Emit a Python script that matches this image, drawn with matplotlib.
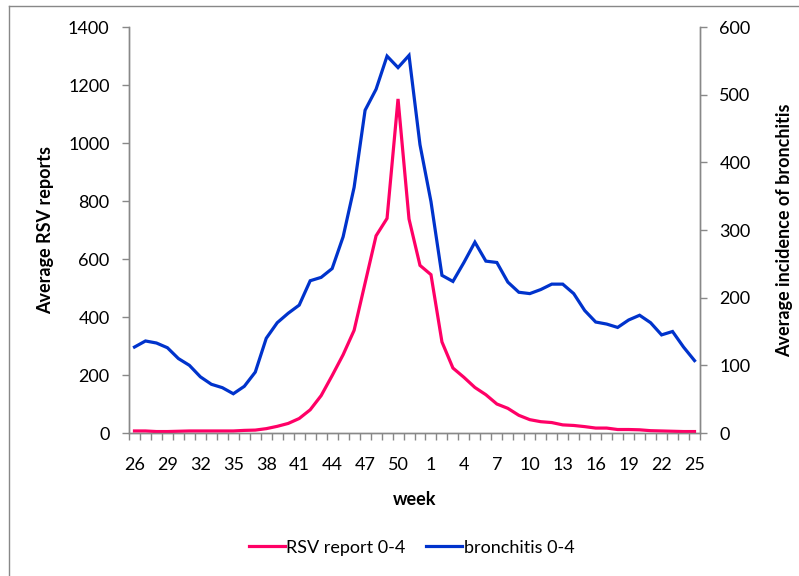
import matplotlib
matplotlib.use("Agg")
import matplotlib.pyplot as plt
from matplotlib.lines import Line2D
import numpy as np

# weeks 26..52 then 1..25
weeks = list(range(26, 53)) + list(range(1, 26))

rsv_reports = [7, 7, 5, 5, 6, 7, 7, 7, 7, 7,
               9, 10, 15, 23, 33, 50, 80, 129, 198, 270,
               354, 517, 680, 740, 1152, 738, 578, 546, 314, 224,
               192, 157, 132, 100, 85, 61, 46, 39, 36, 28,
               26, 22, 17, 17, 12, 12, 11, 8, 7, 6,
               5, 5]

bronchitis = [127, 136, 133, 126, 110, 100, 83, 72, 67, 58,
              69, 90, 140, 163, 177, 189, 225, 230, 243, 290,
              363, 477, 508, 557, 540, 558, 426, 342, 233, 224,
              252, 282, 254, 252, 223, 208, 206, 212, 220, 220,
              206, 181, 164, 161, 156, 167, 174, 163, 145, 150,
              127, 107]

plt.rcParams['font.family'] = ['Lato', 'DejaVu Sans']

pink = '#ff0066'
blue = '#0033cc'
grey = '#888888'

fig = plt.figure(figsize=(7.99, 5.76), dpi=100)
ax = fig.add_axes([129 / 799, 1 - 433 / 576, 571 / 799, 406 / 576])
ax2 = ax.twinx()

x = np.arange(len(weeks))
ax.plot(x, rsv_reports, color=pink, lw=2.3, solid_joinstyle='miter', zorder=3)
ax2.plot(x, bronchitis, color=blue, lw=2.3, solid_joinstyle='miter', zorder=3)

ax.set_xlim(-0.5, len(weeks) - 0.5)
ax.set_ylim(0, 1400)
ax2.set_ylim(0, 600)
ax.set_yticks(range(0, 1401, 200))
ax2.set_yticks(range(0, 601, 100))

ax.set_xticks(x[::3])
ax.set_xticklabels([str(w) for w in weeks[::3]])
ax.set_xticks(np.arange(-0.5, len(weeks), 1.0), minor=True)
ax.tick_params(axis='x', which='major', length=0, pad=17, labelsize=13)
ax.tick_params(axis='x', which='minor', length=5, width=1, color=grey, direction='out')
ax.tick_params(axis='y', length=5, width=1, color=grey, direction='out', pad=9, labelsize=13)
ax2.tick_params(axis='y', length=5, width=1, color=grey, direction='out', pad=9, labelsize=13)

for a in (ax, ax2):
    a.spines['top'].set_visible(False)
    for s in ('left', 'right', 'bottom'):
        a.spines[s].set_color(grey)
        a.spines[s].set_linewidth(1)
    a.patch.set_visible(False)

ax.set_xlabel('week', fontsize=13, fontweight='bold', labelpad=13)
ax.set_ylabel('Average RSV reports', fontsize=13, fontweight='bold', labelpad=10)
ax2.set_ylabel('Average incidence of bronchitis', fontsize=13, fontweight='bold', labelpad=18)

handles = [Line2D([], [], color=pink, lw=2.3), Line2D([], [], color=blue, lw=2.3)]
fig.legend(handles, ['RSV report 0-4', 'bronchitis 0-4'], loc='center',
           bbox_to_anchor=(0.515, 0.049), ncol=2, frameon=False, fontsize=13,
           handlelength=2.0, handletextpad=0.1, columnspacing=1.1)

# chart area border (top and left edges visible)
fig.add_artist(Line2D([9 / 799, 9 / 799], [0, 1 - 6 / 576], transform=fig.transFigure,
                      color=grey, lw=1))
fig.add_artist(Line2D([9 / 799, 1], [1 - 6 / 576, 1 - 6 / 576], transform=fig.transFigure,
                      color=grey, lw=1))

fig.savefig('out.png', dpi=100)
